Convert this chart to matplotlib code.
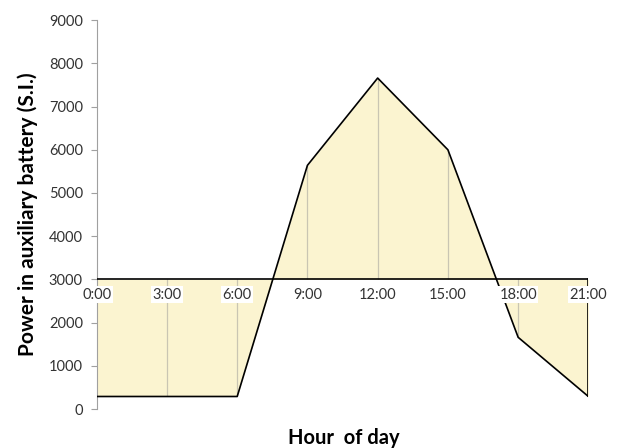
import numpy as np
import matplotlib
matplotlib.use("Agg")
import matplotlib.pyplot as plt

# data
hours = ["0:00", "3:00", "6:00", "9:00", "12:00", "15:00", "18:00", "21:00"]
power = [290, 290, 290, 5640, 7660, 6000, 1660, 290]
baseline = 3000
y_ticks = [0, 1000, 2000, 3000, 4000, 5000, 6000, 7000, 8000, 9000]

plt.rcParams['font.family'] = ['Lato', 'DejaVu Sans']

fig = plt.figure(figsize=(6.2, 4.48), dpi=100)
ax = fig.add_axes([0.156, 0.087, 0.793, 0.868])

x = np.arange(len(hours))
ax.fill_between(x, power, baseline, color='#FBF4D0', linewidth=0, zorder=1)
# drop lines inside the area
ax.vlines(x[1:-1], power[1:-1], baseline, color='#C9C5B2', linewidth=0.9, zorder=2)
ax.plot(x, power, color='black', linewidth=1.2, zorder=3)
ax.plot([x[0], x[-1]], [baseline, baseline], color='black', linewidth=1.2, zorder=3)
ax.plot([x[-1], x[-1]], [power[-1], baseline], color='black', linewidth=1.2, zorder=3)

# category labels sit just below the crossing line
for xi, lab in zip(x, hours):
    ax.annotate(lab, (xi, baseline), xytext=(0, -6), textcoords='offset points',
                ha='center', va='top', fontsize=10.5, color='#333333',
                bbox=dict(boxstyle='square,pad=0.1', fc='white', ec='none'), zorder=4)

ax.set_xlim(x[0], x[-1])
ax.set_ylim(0, 9000)
ax.set_yticks(y_ticks)
ax.set_yticklabels([str(t) for t in y_ticks], fontsize=10.5, color='#333333')
ax.set_xticks([])
ax.tick_params(axis='y', direction='out', length=4, color='#A0A0A0', pad=6)
for s in ['top', 'right', 'bottom']:
    ax.spines[s].set_visible(False)
ax.spines['left'].set_color('#A0A0A0')

ax.set_ylabel("Power in auxiliary battery (S.I.)", fontsize=15, fontweight='bold', labelpad=8)
fig.text(0.554, 0.022, "Hour  of day", ha='center', va='center', fontsize=14.5, fontweight='bold')

fig.savefig("out.png", dpi=100)
